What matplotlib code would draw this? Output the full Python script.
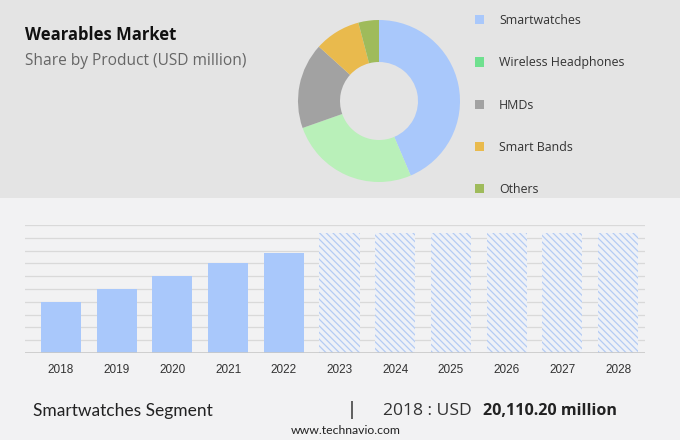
import matplotlib
matplotlib.use("Agg")
import matplotlib.pyplot as plt
from matplotlib.patches import Rectangle, Patch

plt.rcParams["hatch.linewidth"] = 0.9

# ---- data ----
products = ["Smartwatches", "Wireless Headphones", "HMDs", "Smart Bands", "Others"]
shares = [43.6, 26.0, 17.1, 9.2, 4.1]
pie_colors = ["#a9c8fb", "#b9f0b9", "#a2a2a2", "#e9ba4d", "#9fbb5b"]
legend_colors = ["#a9c8fb", "#6fe08f", "#a2a2a2", "#e9ba4d", "#9fbb5b"]

years = ["2018", "2019", "2020", "2021", "2022", "2023", "2024", "2025", "2026", "2027", "2028"]
values = [20110.2, 25100, 30050, 35000, 39200, None, None, None, None, None, None]
forecast_placeholder = 46900

W, H = 680, 440
fig = plt.figure(figsize=(W / 100, H / 100), dpi=100)
fig.patch.set_facecolor("#f2f2f3")

# top panel background
fig.patches.append(Rectangle((0, 1 - 198 / H), 1, 198 / H, transform=fig.transFigure,
                             facecolor="#e4e4e4", edgecolor="none", zorder=-10))

# titles
fig.text(25 / W, 1 - 35 / H, "Wearables Market", fontsize=12, fontweight="bold",
         family="Open Sans", color="#111111", va="center", ha="left")
fig.text(25 / W, 1 - 61 / H, "Share by Product (USD million)", fontsize=11.2,
         family="Open Sans", color="#666666", va="center", ha="left")

# donut
cx, cy, R, r = 379, 101, 81, 39
axp = fig.add_axes([(cx - R) / W, 1 - (cy + R) / H, 2 * R / W, 2 * R / H])
axp.pie(shares, colors=pie_colors, startangle=90, counterclock=False, radius=1,
        wedgeprops=dict(width=(R - r) / R, edgecolor="none"))
axp.set_aspect("equal")
axp.set_xlim(-1, 1)
axp.set_ylim(-1, 1)
axp.axis("off")

# legend
handles = [Patch(facecolor=c, edgecolor="none") for c in legend_colors]
fig.legend(handles, products, loc="upper left", bbox_to_anchor=(475 / W, 1 - 14 / H),
           frameon=False, handlelength=0.75, handleheight=0.75,
           handletextpad=1.2, labelspacing=2.37, prop=dict(family="Open Sans", size=8.9),
           labelcolor="#333333", borderaxespad=0, borderpad=0)

# bar chart
step = 55.7
x0 = 61
left_lim = (25 - x0) / step
right_lim = (645 - x0) / step
axb = fig.add_axes([25 / W, 1 - 353 / H, 620 / W, 128 / H])
axb.set_facecolor("none")
axb.set_xlim(left_lim, right_lim)
axb.set_ylim(0, 50000)
for yv in range(5000, 50001, 5000):
    axb.axhline(yv, color="#d9d9d9", lw=0.9, zorder=1)
axb.axhline(0, color="#c8c8c8", lw=1.2, zorder=3)
xs = list(range(len(years)))
for i, v in enumerate(values):
    if v is not None:
        axb.bar(i, v, width=0.72, color="#a9c8fb", edgecolor="none", zorder=2)
    else:
        axb.bar(i, forecast_placeholder, width=0.72, color="#eef1f7", edgecolor="#b4cbf3",
                linewidth=0, hatch="\\" * 5, zorder=2)
axb.set_xticks(xs)
axb.set_xticklabels(years, fontsize=8.5, color="#333333", family="Liberation Sans")
axb.tick_params(axis="x", length=0, pad=8)
axb.set_yticks([])
for s in axb.spines.values():
    s.set_visible(False)

# footer
fig.text(33 / W, 1 - 411 / H, "Smartwatches Segment", fontsize=12.5, family="Lato",
         color="#222222", va="center", ha="left")
fig.text(352 / W, 1 - 410 / H, "|", fontsize=13, family="DejaVu Sans", color="#333333",
         va="center", ha="center")
fig.text(383 / W, 1 - 411 / H, "2018 : USD", fontsize=12.6, family="Open Sans",
         color="#333333", va="center", ha="left")
fig.text(483 / W, 1 - 411 / H, "20,110.20 million", fontsize=11.6, family="Open Sans",
         fontweight="bold", color="#222222", va="center", ha="left")
fig.text(346 / W, 1 - 430 / H, "www.technavio.com", fontsize=8.8, family="Lato",
         color="#222222", va="center", ha="center")

fig.savefig("out.png", dpi=100, facecolor=fig.get_facecolor())
